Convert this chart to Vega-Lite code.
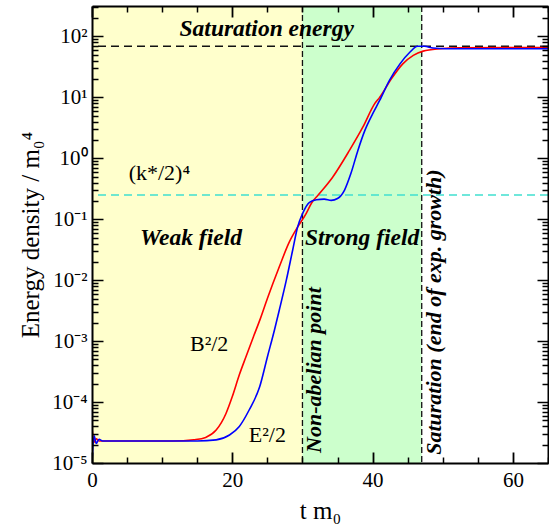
{
  "$schema": "https://vega.github.io/schema/vega-lite/v6.json",
  "width": 456,
  "height": 457,
  "autosize": {"type": "none"},
  "padding": {"left": 92, "top": 6, "right": 1, "bottom": 66},
  "background": "white",
  "datasets": {
    "regions": [
      {"t0": 0, "t1": 30, "phase": "weak"},
      {"t0": 30, "t1": 47, "phase": "strong"}
    ],
    "levels": [
      {"v": 69, "kind": "saturation"},
      {"v": 0.25, "kind": "kstar"}
    ],
    "marks": [
      {"t": 30},
      {"t": 47}
    ],
    "curves": [
      {"field": "B", "t": 0, "v": 3.8e-5},
      {"field": "B", "t": 0.3, "v": 2.2e-5},
      {"field": "B", "t": 0.6, "v": 2.5e-5},
      {"field": "B", "t": 1.0, "v": 2.3e-5},
      {"field": "B", "t": 5, "v": 2.3e-5},
      {"field": "B", "t": 10, "v": 2.3e-5},
      {"field": "B", "t": 13, "v": 2.32e-5},
      {"field": "B", "t": 14.5, "v": 2.4e-5},
      {"field": "B", "t": 16.2, "v": 2.63e-5},
      {"field": "B", "t": 17.7, "v": 3.47e-5},
      {"field": "B", "t": 19.1, "v": 6.5e-5},
      {"field": "B", "t": 20.0, "v": 1.23e-4},
      {"field": "B", "t": 21.0, "v": 2.8e-4},
      {"field": "B", "t": 22.0, "v": 5.75e-4},
      {"field": "B", "t": 23.0, "v": 1.17e-3},
      {"field": "B", "t": 24.0, "v": 2.34e-3},
      {"field": "B", "t": 25.0, "v": 5.0e-3},
      {"field": "B", "t": 26.7, "v": 0.0166},
      {"field": "B", "t": 28.1, "v": 0.0417},
      {"field": "B", "t": 29.3, "v": 0.0741},
      {"field": "B", "t": 30.5, "v": 0.123},
      {"field": "B", "t": 31.3, "v": 0.185},
      {"field": "B", "t": 32.3, "v": 0.254},
      {"field": "B", "t": 34.3, "v": 0.49},
      {"field": "B", "t": 36.7, "v": 1.35},
      {"field": "B", "t": 38.6, "v": 3.24},
      {"field": "B", "t": 40.3, "v": 7.9},
      {"field": "B", "t": 41.0, "v": 10},
      {"field": "B", "t": 42.7, "v": 20.4},
      {"field": "B", "t": 44.3, "v": 35.5},
      {"field": "B", "t": 45.8, "v": 49},
      {"field": "B", "t": 47.2, "v": 57.5},
      {"field": "B", "t": 49.6, "v": 63},
      {"field": "B", "t": 52.4, "v": 65.3},
      {"field": "B", "t": 65, "v": 66},
      {"field": "E", "t": 0, "v": 1.0e-5},
      {"field": "E", "t": 0.3, "v": 2.8e-5},
      {"field": "E", "t": 0.6, "v": 2.1e-5},
      {"field": "E", "t": 1.0, "v": 2.45e-5},
      {"field": "E", "t": 1.5, "v": 2.3e-5},
      {"field": "E", "t": 5, "v": 2.3e-5},
      {"field": "E", "t": 10, "v": 2.3e-5},
      {"field": "E", "t": 15, "v": 2.3e-5},
      {"field": "E", "t": 17.7, "v": 2.4e-5},
      {"field": "E", "t": 19.6, "v": 2.88e-5},
      {"field": "E", "t": 21.0, "v": 3.98e-5},
      {"field": "E", "t": 22.4, "v": 7.41e-5},
      {"field": "E", "t": 23.9, "v": 1.78e-4},
      {"field": "E", "t": 25.0, "v": 5.5e-4},
      {"field": "E", "t": 26.0, "v": 1.51e-3},
      {"field": "E", "t": 26.7, "v": 3.24e-3},
      {"field": "E", "t": 27.7, "v": 0.01},
      {"field": "E", "t": 28.6, "v": 0.031},
      {"field": "E", "t": 29.3, "v": 0.074},
      {"field": "E", "t": 30.0, "v": 0.123},
      {"field": "E", "t": 31.0, "v": 0.19},
      {"field": "E", "t": 32.0, "v": 0.209},
      {"field": "E", "t": 33.1, "v": 0.214},
      {"field": "E", "t": 34.1, "v": 0.204},
      {"field": "E", "t": 35.0, "v": 0.219},
      {"field": "E", "t": 36.0, "v": 0.302},
      {"field": "E", "t": 36.9, "v": 0.562},
      {"field": "E", "t": 37.9, "v": 1.35},
      {"field": "E", "t": 38.9, "v": 2.88},
      {"field": "E", "t": 40.0, "v": 5.37},
      {"field": "E", "t": 41.0, "v": 8.9},
      {"field": "E", "t": 42.4, "v": 19.1},
      {"field": "E", "t": 43.9, "v": 35.5},
      {"field": "E", "t": 45.3, "v": 55},
      {"field": "E", "t": 46.4, "v": 69},
      {"field": "E", "t": 47.4, "v": 69},
      {"field": "E", "t": 48.6, "v": 64.6},
      {"field": "E", "t": 50.5, "v": 63},
      {"field": "E", "t": 65, "v": 63}
    ],
    "plainLabels": [
      {"t": 9.6, "v": 0.57, "text": "(k*/2)⁴"},
      {"t": 16.7, "v": 8.9e-4, "text": "B²/2"},
      {"t": 25.0, "v": 2.9e-5, "text": "E²/2"}
    ],
    "boldLabels": [
      {"t": 24.9, "v": 135, "text": "Saturation energy"},
      {"t": 14.1, "v": 0.049, "text": "Weak field"},
      {"t": 38.5, "v": 0.049, "text": "Strong field"}
    ],
    "sideLabels": [
      {"t": 31.7, "v": 3.35e-4, "text": "Non-abelian point"},
      {"t": 48.7, "v": 3.0e-3, "text": "Saturation (end of exp. growth)"}
    ]
  },
  "resolve": {"axis": {"x": "independent", "y": "independent"}},
  "layer": [
    {
      "data": {"name": "regions"},
      "mark": {"type": "rect"},
      "encoding": {
        "x": {"field": "t0", "type": "quantitative", "axis": null,
              "scale": {"domain": [0, 65], "nice": false, "zero": false}},
        "x2": {"field": "t1"},
        "color": {"field": "phase", "type": "nominal", "legend": null,
                  "scale": {"domain": ["weak", "strong"], "range": ["#FFFFCC", "#CCFFCC"]}}
      }
    },
    {
      "data": {"name": "levels"},
      "mark": {"type": "rule", "strokeWidth": 1.5, "strokeDash": [8, 5]},
      "encoding": {
        "y": {"field": "v", "type": "quantitative",
              "scale": {"type": "log", "domain": [1e-5, 316.2278], "nice": false},
              "axis": {"orient": "right", "zindex": 1, "ticks": false, "labels": false, "domain": true, "title": null}},
        "stroke": {"field": "kind", "type": "nominal", "legend": null,
                   "scale": {"domain": ["saturation", "kstar"], "range": ["#111111", "#40E0D0"]}}
      }
    },
    {
      "data": {"name": "marks"},
      "mark": {"type": "rule", "strokeWidth": 1.3, "strokeDash": [6, 3], "color": "#111111"},
      "encoding": {
        "x": {"field": "t", "type": "quantitative",
              "axis": {"orient": "top", "zindex": 1, "ticks": false, "labels": false, "domain": true, "title": null}}
      }
    },
    {
      "data": {"name": "curves"},
      "transform": [{"filter": "datum.field === 'B'"}],
      "mark": {"type": "line", "color": "#FF0000", "strokeWidth": 1.6, "interpolate": "monotone", "clip": true},
      "encoding": {
        "x": {"field": "t", "type": "quantitative",
              "axis": {"orient": "bottom", "zindex": 1, "values": [0, 20, 40, 60], "ticks": false, "domain": true,
                       "labelPadding": 6, "labelFlush": false, "title": "t m₀", "titlePadding": 8}},
        "y": {"field": "v", "type": "quantitative",
              "axis": {"orient": "left", "zindex": 1, "values": [1e-5, 1e-4, 1e-3, 1e-2, 1e-1, 1, 10, 100], "ticks": false, "domain": true,
                       "labelPadding": 5, "title": "Energy density / m₀⁴", "titlePadding": 8,
                       "labelExpr": "'10' + ['⁻⁵','⁻⁴','⁻³','⁻²','⁻¹','⁰','¹','²'][round(log(datum.value) / LN10) + 5]"}}
      }
    },
    {
      "data": {"name": "curves"},
      "transform": [{"filter": "datum.field === 'E'"}],
      "mark": {"type": "line", "color": "#0000FF", "strokeWidth": 1.6, "interpolate": "monotone", "clip": true},
      "encoding": {
        "x": {"field": "t", "type": "quantitative",
              "axis": {"orient": "bottom", "zindex": 1, "values": [0, 20, 40, 60], "tickSize": 11, "offset": -11,
                       "tickWidth": 1.8, "labels": false, "domain": false, "title": null}},
        "y": {"field": "v", "type": "quantitative",
              "axis": {"orient": "left", "zindex": 1, "values": [1e-5, 1e-4, 1e-3, 1e-2, 1e-1, 1, 10, 100], "tickSize": 11, "offset": -11,
                       "labels": false, "domain": false, "title": null}}
      }
    },
    {
      "data": {"name": "plainLabels"},
      "mark": {"type": "text", "font": "Liberation Serif", "fontSize": 22, "color": "black", "align": "center", "baseline": "middle"},
      "encoding": {
        "x": {"field": "t", "type": "quantitative",
              "axis": {"orient": "top", "zindex": 1, "values": [0, 20, 40, 60], "tickSize": 11, "offset": -11,
                       "tickWidth": 1.8, "labels": false, "domain": false, "title": null}},
        "y": {"field": "v", "type": "quantitative",
              "axis": {"orient": "right", "zindex": 1, "values": [1e-5, 1e-4, 1e-3, 1e-2, 1e-1, 1, 10, 100], "tickSize": 11, "offset": -11,
                       "labels": false, "domain": false, "title": null}},
        "text": {"field": "text"}
      }
    },
    {
      "data": {"name": "boldLabels"},
      "mark": {"type": "text", "font": "Liberation Serif", "fontSize": 23.5, "fontWeight": "bold", "fontStyle": "italic",
               "color": "black", "align": "center", "baseline": "middle"},
      "encoding": {
        "x": {"field": "t", "type": "quantitative",
              "axis": {"orient": "bottom", "zindex": 1, "values": [5, 10, 15, 25, 30, 35, 45, 50, 55, 65], "tickSize": 6, "offset": -6,
                       "labels": false, "domain": false, "title": null}},
        "y": {"field": "v", "type": "quantitative",
              "axis": {"orient": "left", "zindex": 1, "tickSize": 6, "offset": -6, "labels": false, "domain": false, "title": null,
                       "values": [2e-5, 3e-5, 4e-5, 5e-5, 6e-5, 7e-5, 8e-5, 9e-5,
                                  2e-4, 3e-4, 4e-4, 5e-4, 6e-4, 7e-4, 8e-4, 9e-4,
                                  2e-3, 3e-3, 4e-3, 5e-3, 6e-3, 7e-3, 8e-3, 9e-3,
                                  0.02, 0.03, 0.04, 0.05, 0.06, 0.07, 0.08, 0.09,
                                  0.2, 0.3, 0.4, 0.5, 0.6, 0.7, 0.8, 0.9,
                                  2, 3, 4, 5, 6, 7, 8, 9,
                                  20, 30, 40, 50, 60, 70, 80, 90, 200, 300]}},
        "text": {"field": "text"}
      }
    },
    {
      "data": {"name": "sideLabels"},
      "mark": {"type": "text", "font": "Liberation Serif", "fontSize": 22, "fontWeight": "bold", "fontStyle": "italic",
               "color": "black", "align": "center", "baseline": "middle", "angle": 270},
      "encoding": {
        "x": {"field": "t", "type": "quantitative",
              "axis": {"orient": "top", "zindex": 1, "values": [5, 10, 15, 25, 30, 35, 45, 50, 55, 65], "tickSize": 6, "offset": -6,
                       "labels": false, "domain": false, "title": null}},
        "y": {"field": "v", "type": "quantitative",
              "axis": {"orient": "right", "zindex": 1, "tickSize": 6, "offset": -6, "labels": false, "domain": false, "title": null,
                       "values": [2e-5, 3e-5, 4e-5, 5e-5, 6e-5, 7e-5, 8e-5, 9e-5,
                                  2e-4, 3e-4, 4e-4, 5e-4, 6e-4, 7e-4, 8e-4, 9e-4,
                                  2e-3, 3e-3, 4e-3, 5e-3, 6e-3, 7e-3, 8e-3, 9e-3,
                                  0.02, 0.03, 0.04, 0.05, 0.06, 0.07, 0.08, 0.09,
                                  0.2, 0.3, 0.4, 0.5, 0.6, 0.7, 0.8, 0.9,
                                  2, 3, 4, 5, 6, 7, 8, 9,
                                  20, 30, 40, 50, 60, 70, 80, 90, 200, 300]}},
        "text": {"field": "text"}
      }
    }
  ],
  "config": {
    "view": {"stroke": null},
    "axis": {
      "grid": false,
      "domainColor": "black",
      "domainWidth": 2,
      "tickColor": "black",
      "tickWidth": 1.5,
      "labelFont": "Liberation Serif",
      "labelFontSize": 21,
      "labelColor": "black",
      "titleFont": "Liberation Serif",
      "titleFontSize": 25,
      "titleFontWeight": "normal",
      "titleColor": "black"
    }
  }
}
